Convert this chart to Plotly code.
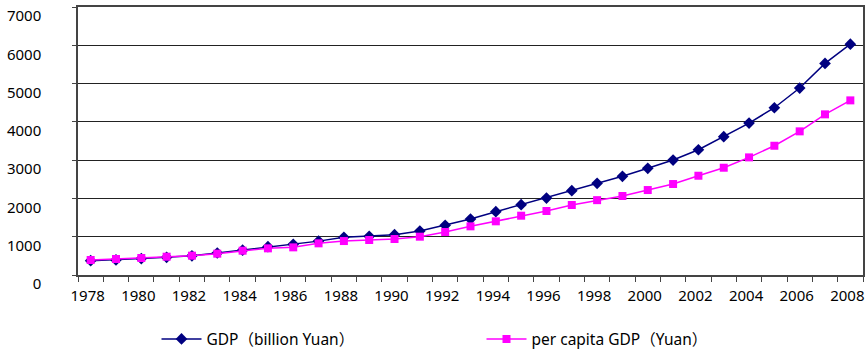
import plotly.graph_objects as go

# Years shown on the category axis
years = [str(y) for y in range(1978, 2009)]

# GDP, billion Yuan
gdp = [375, 395, 430, 462, 500, 575, 648, 740, 800, 885, 983, 1010,
       1053, 1149, 1297, 1462, 1653, 1836, 2010, 2202, 2394, 2577,
       2786, 3003, 3272, 3612, 3969, 4369, 4883, 5527, 6030]

# Per capita GDP, Yuan
per_capita = [392, 418, 444, 478, 505, 557, 635, 696, 722, 827, 887, 914,
              940, 1001, 1123, 1271, 1402, 1549, 1671, 1828, 1955, 2063,
              2219, 2376, 2593, 2802, 3072, 3376, 3752, 4196, 4561]

# Only every other year carries a label; every boundary keeps its tick
tick_text = [y if (int(y) - 1978) % 2 == 0 else "" for y in years]

font_family = "Noto Sans, Noto Sans CJK SC, sans-serif"

fig = go.Figure()
fig.add_trace(go.Scatter(
    x=years, y=gdp, mode="lines+markers",
    name="GDP（billion Yuan）",
    line=dict(color="#000080", width=1.5),
    marker=dict(symbol="diamond", size=9, color="#000080"),
))
fig.add_trace(go.Scatter(
    x=years, y=per_capita, mode="lines+markers",
    name="per capita GDP（Yuan）",
    line=dict(color="#FF00FF", width=1.5),
    marker=dict(symbol="square", size=8, color="#FF00FF"),
))

fig.update_layout(
    width=868, height=352,
    margin=dict(l=78, r=5, t=7, b=77, autoexpand=False),
    paper_bgcolor="white", plot_bgcolor="white",
    font=dict(family=font_family, size=15, color="#000000"),
    showlegend=True,
    legend=dict(
        orientation="h", x=0.1, y=-0.24, xanchor="left", yanchor="middle",
        entrywidth=270, entrywidthmode="pixels",
        font=dict(size=15.5), itemwidth=40,
    ),
)

fig.update_xaxes(
    type="category", categoryorder="array", categoryarray=years,
    range=[-0.5, len(years) - 0.5],
    tickmode="array", tickvals=years, ticktext=tick_text,
    tickson="boundaries", ticks="outside", ticklen=5, tickcolor="#444",
    showline=True, linecolor="#444", linewidth=1.5, mirror=True,
    showgrid=False, tickangle=0, ticklabelshift=-3, ticklabelstandoff=6,
)
fig.update_yaxes(
    range=[0, 7000], dtick=1000, tick0=0,
    showgrid=True, gridcolor="#222", gridwidth=1,
    ticks="outside", ticklen=4, tickcolor="#444",
    showline=True, linecolor="#444", linewidth=1.5, mirror=True,
    zeroline=False, ticklabelshift=9, ticklabelstandoff=28,
)

fig.write_html("out.html")
